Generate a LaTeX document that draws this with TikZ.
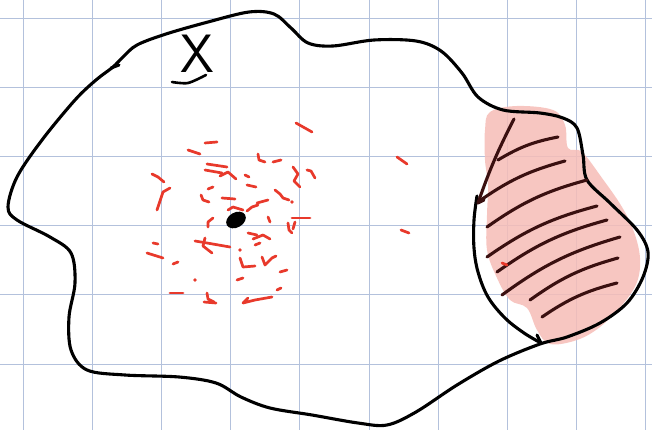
\documentclass[tikz,border=0pt]{standalone}
\usepackage{fontspec}
\usepackage{tikz}
\usetikzlibrary{calc}

\definecolor{gridblue}{HTML}{B3C1DC}
\definecolor{redink}{HTML}{E8392B}
\definecolor{pinkwash}{HTML}{F6BDB7}
\definecolor{brownink}{HTML}{3A1010}

\tikzset{
  gridline/.style={gridblue, line width=0.9pt},
  outline/.style={black, line width=3.1pt, line cap=round, line join=round},
  hatch/.style={brownink, line width=3.1pt, line cap=round},
  redmark/.style={redink, line width=2.7pt, line cap=round, line join=round},
}

\begin{document}
\begin{tikzpicture}[x=1pt, y=-1pt]
    \useasboundingbox (0,0) rectangle (652,430);
    \fill[white] (0,0) rectangle (652,430);

    % squared paper
    \foreach \i in {0,...,9}
        \draw[gridline] ({23.5+69.1*\i},0) -- ({23.5+69.1*\i},430);
    \foreach \j in {0,...,5}
        \draw[gridline] (0,{18+69.2*\j}) -- (652,{18+69.2*\j});

    % pink wash of the shaded part
    \fill[pinkwash, fill opacity=0.85] plot[smooth cycle, tension=0.6] coordinates {
        (490,112) (517,106) (553,110) (565,125) (568,148) (582,152) (602,178)
        (622,207) (634,232) (640,258) (637,282) (623,304) (600,327) (577,340)
        (550,344) (537,330) (527,308) (510,300) (497,278) (487,250) (487,215)
        (488,185) (485,160) (485,130)};

    % outer boundary of the set
    \draw[outline] plot[smooth cycle, tension=0.55] coordinates {
        (113,67) (123,57) (137,45) (166,34) (208,22) (249,12) (274,14) (291,28)
        (308,43) (333,46) (374,40) (416,41) (441,51) (462,73) (478,97) (503,110)
        (540,113) (563,118) (577,128) (583,155) (587,180) (610,203) (637,230)
        (648,252) (643,277) (627,303) (600,323) (567,337) (540,344) (499,361)
        (457,385) (416,412) (387,425) (358,423) (312,415) (270,408) (241,397)
        (216,383) (179,377) (125,375) (87,370) (71,350) (69,317) (75,283)
        (71,253) (50,237) (17,220) (8,207) (17,177) (42,140) (75,100) (96,80)};
    \draw[outline] (111,68) -- (119,65);

    % inner boundary of the shaded part
    \draw[outline] plot[smooth, tension=0.6] coordinates {
        (477,196) (474,220) (474,248) (478,272) (488,297) (505,318) (524,333) (541,343)};
    \draw[outline] (541,343) -- (537,335);

    % hatching
    \draw[hatch] (514,119) to[bend right=4] (478,203);
    \draw[hatch] (478,203) -- (484,200);
    \foreach \xa/\ya/\xb/\yb in {498/160/558/137, 478/202/565/161, 487/227/587/180,
        487/257/597/206, 497/272/607/220, 502/295/620/237, 530/300/618/258,
        542/317/617/283}
        \draw[hatch] (\xa,\ya) to[bend left=10] (\xb,\yb);

    % red marks around the point
    \foreach \xa/\ya/\xb/\yb in {296/123/312/132, 205/143/217/142, 188/150/200/154,
        273/162/281/160, 207/164/227/167, 205/170/222/173, 247/185/256/187,
        222/198/235/199, 257/203/268/200, 268/217/270/222, 292/218/310/218,
        248/233/257/235, 255/245/260/243, 147/253/163/258, 153/243/158/244,
        173/264/178/262, 280/272/287/270, 237/280/243/278, 170/293/183/293,
        277/290/281/288, 397/157/407/164, 401/230/409/233, 502/263/507/265,
        245/175/249/177, 204/302/216/303}
        \draw[redmark] (\xa,\ya) -- (\xb,\yb);
    \draw[redmark] (258,154) -- (259,160) -- (265,162);
    \draw[redmark] (152,174) -- (158,177) -- (164,182);
    \draw[redmark] (293,167) -- (298,174) -- (294,181) -- (300,187);
    \draw[redmark] (307,170) -- (311,171) -- (315,178);
    \draw[redmark] (220,176) -- (228,172) -- (236,179);
    \draw[redmark] (170,188) -- (163,192) -- (157,210);
    \draw[redmark] (208,189) -- (213,187);
    \draw[redmark] (201,195) -- (203,200) -- (209,202);
    \draw[redmark] (275,190) -- (280,194) -- (283,198) -- (289,200);
    \draw[redmark] (228,210) -- (233,207) -- (243,210);
    \draw[redmark] (247,211) -- (252,207) -- (258,205);
    \draw[redmark] (213,218) -- (208,222) -- (208,227);
    \draw[redmark] (288,223) -- (289,230) -- (292,233);
    \draw[redmark] (295,222) -- (293,229);
    \draw[redmark] (253,239) -- (263,235) -- (270,239);
    \draw[redmark] (195,241) -- (207,243) -- (230,247);
    \draw[redmark] (205,238) -- (203,246) -- (212,253);
    \draw[redmark] (240,258) -- (243,267) -- (255,266);
    \draw[redmark] (262,257) -- (265,265) -- (272,258) -- (276,256);
    \draw[redmark] (207,293) -- (208,299) -- (214,302);
    \draw[redmark] (248,298) -- (243,303) -- (255,300) -- (272,297);
    \foreach \px/\py in {292/202, 240/250, 195/280}
        \fill[redink] (\px,\py) circle (1.8);

    % the point
    \fill[rotate around={30:(236,220)}] (236,220) ellipse [x radius=10.5, y radius=7.5];

    % name of the set
    \node[inner sep=0pt] (setname) at (197,54) {\fontsize{54}{54}\selectfont\sffamily X};
    \draw[outline, line width=2.6pt] plot[smooth] coordinates {(172,82) (188,83) (206,75)};
\end{tikzpicture}
\end{document}
